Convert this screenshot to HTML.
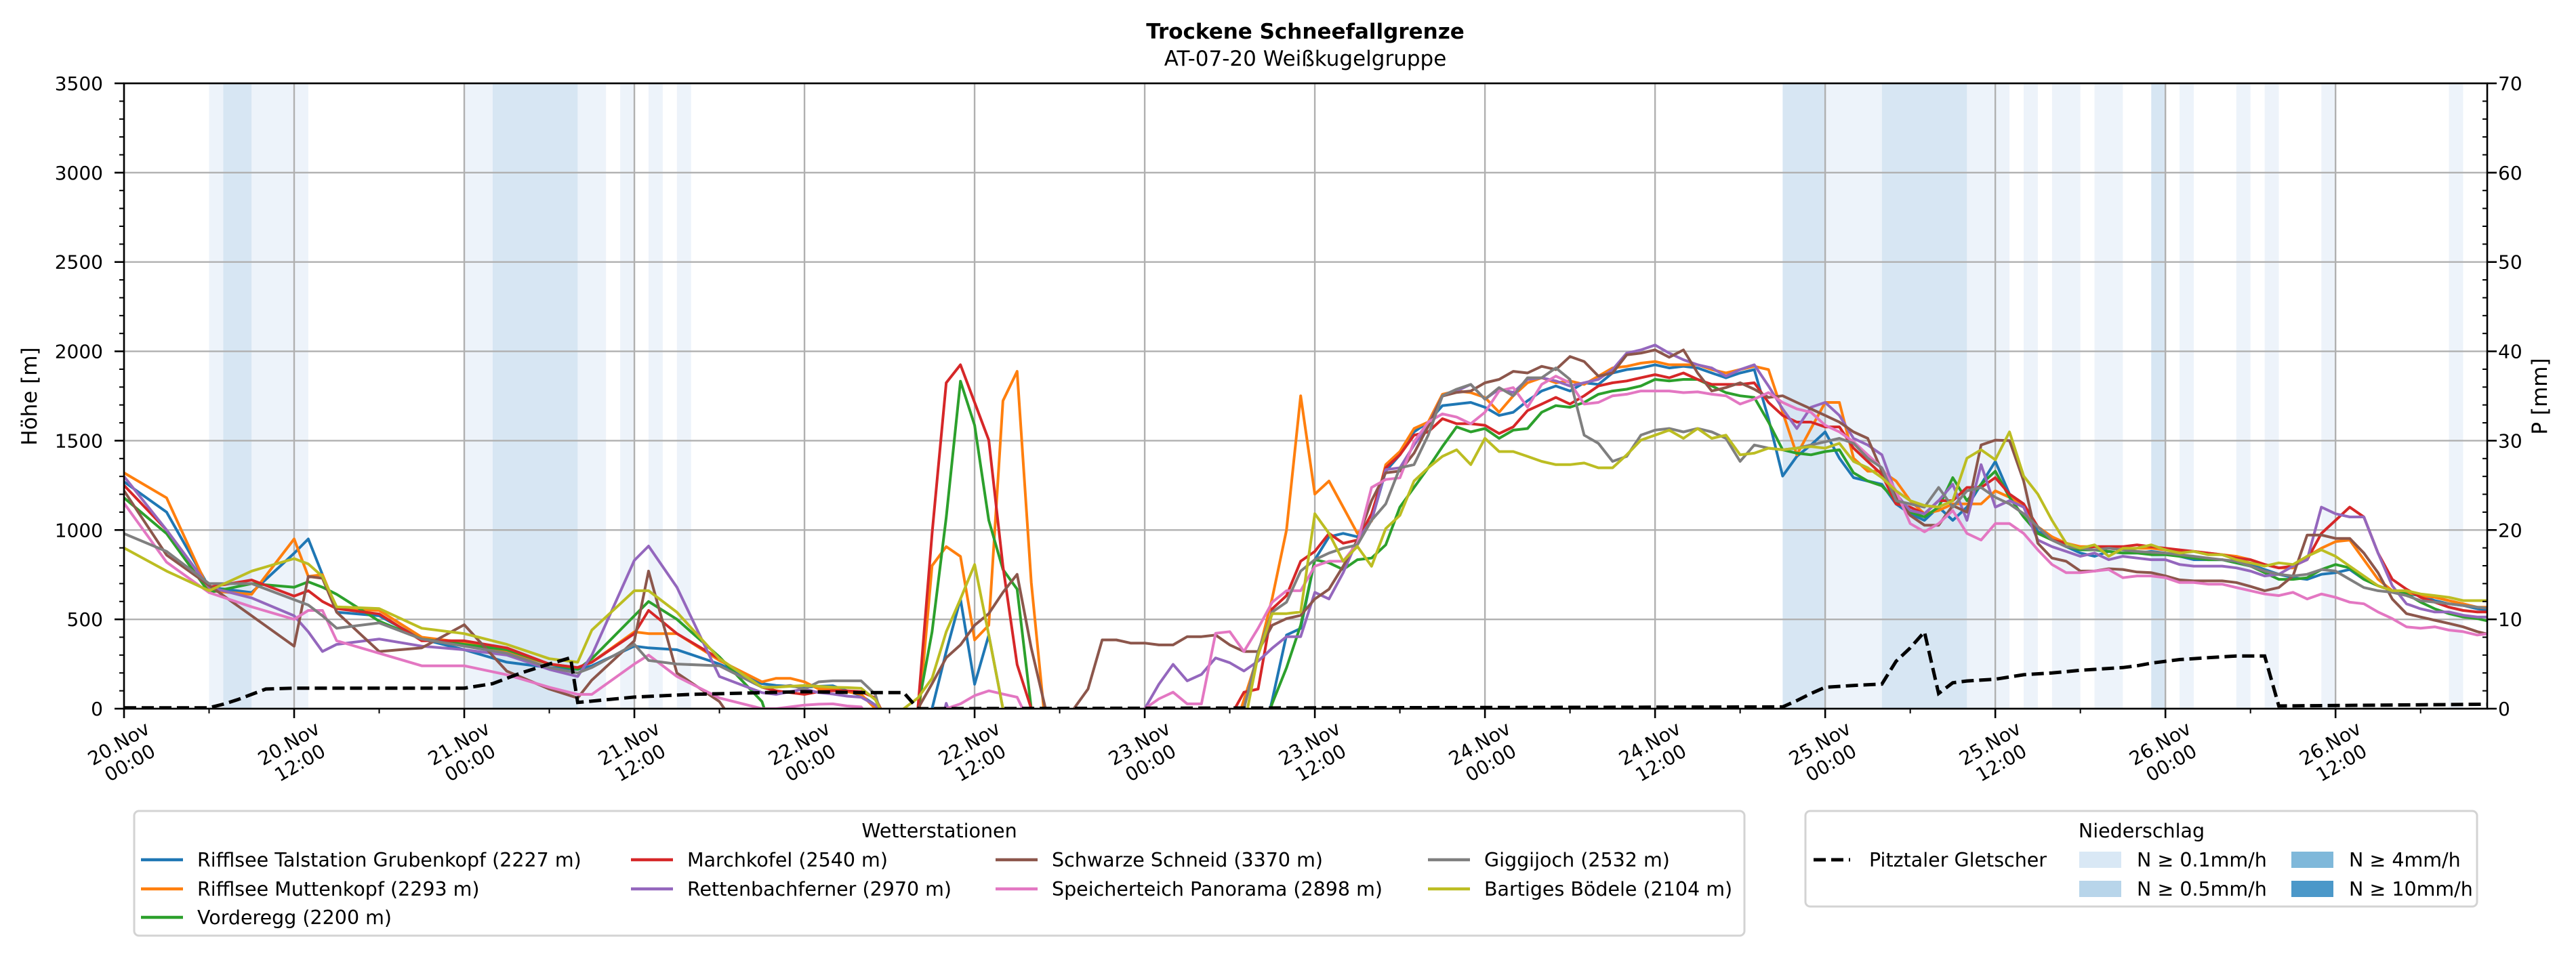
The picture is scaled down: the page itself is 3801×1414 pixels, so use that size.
<!DOCTYPE html>
<html><head><meta charset="utf-8"><title>Trockene Schneefallgrenze</title>
<style>html,body{margin:0;padding:0;background:#fff}svg{display:block}text{font-family:"DejaVu Sans","Liberation Sans",sans-serif}</style>
</head><body>
<svg id="chart" width="3801" height="1414" viewBox="0 0 3801 1414" xmlns="http://www.w3.org/2000/svg">
<defs><clipPath id="plotclip"><rect x="183" y="123" width="3487" height="923"/></clipPath></defs>
<text x="1926" y="57" text-anchor="middle" font-size="31" font-weight="bold">Trockene Schneefallgrenze</text>
<text x="1926" y="97" text-anchor="middle" font-size="31">AT-07-20 Weißkugelgruppe</text>
<g id="bands"></g>
<g id="grid"></g>
<g id="series" clip-path="url(#plotclip)"></g>
<g id="precip" clip-path="url(#plotclip)"></g>
<g id="axes"></g>
<text transform="translate(54,585) rotate(-90)" text-anchor="middle" font-size="31">Höhe [m]</text>
<text transform="translate(3758,585) rotate(-90)" text-anchor="middle" font-size="31">P [mm]</text>
<g id="legend1">
<rect x="198" y="1197" width="2376" height="184" rx="7" fill="#fff" stroke="#d3d3d3" stroke-width="3"/>
<text x="1386" y="1236" text-anchor="middle" font-size="28.5">Wetterstationen</text>
</g>
<g id="legend2">
<rect x="2664" y="1197" width="991" height="141" rx="7" fill="#fff" stroke="#d3d3d3" stroke-width="3"/>
<text x="3160" y="1236" text-anchor="middle" font-size="28.5">Niederschlag</text>
</g>
</svg>
<script>
const N = null;
const hoursEarly = [0,3,6,9,12,13,14,15,18,21,24,27,30,32,33,36,37,39,42,45,46,47,48];
const hoursLate = Array.from({length:119},(_,i)=>49+i);
const hours = hoursEarly.concat(hoursLate);

const stationNames = ["Rifflsee Talstation Grubenkopf (2227 m)","Rifflsee Muttenkopf (2293 m)","Vorderegg (2200 m)","Marchkofel (2540 m)","Rettenbachferner (2970 m)","Schwarze Schneid (3370 m)","Speicherteich Panorama (2898 m)","Giggijoch (2532 m)","Bartiges Bödele (2104 m)"];
const stationColors = ["#1f77b4","#ff7f0e","#2ca02c","#d62728","#9467bd","#8c564b","#e377c2","#7f7f7f","#bcbd22"];

const blueVals = [1270,1100,680,650,870,950,750,540,520,390,330,260,230,220,240,350,340,330,250,140,130,125,120,
125,128,100,73,20,-200,N,N,0,320,614,137,412,0,-300,
N,N,N,N,N,N,N,N,N,N,N,N,N,N,N, N,-300,
50,412,449,834,962,981,962,1054,1329,1421,1549,1604,1696,1705,1714,1687,1641,1659,1723,1778,1806,1778,1824,1815,1879,1898,1907,1925,1907,1916,
1907,1879,1852,1879,1898,1623,1302,1412,1476,1549,1402,1293,1274,1256,1146,1091,1054,1128,1054,1128,1256,1384,1201,1146,990,962,907,871,853,880,871,871,880,871,853,834,834,834,816,807,779,752,733,724,752,761,779,724,688,660,642,633,605,587,578,559,550];
const orangeVals = [1320,1180,660,640,950,740,750,560,550,400,370,320,250,230,260,430,420,420,270,150,170,170,150,
110,110,95,80,0,-300,N,-100,800,907,852,385,467,1723,1888,706,-100,
N,N,N,N,N,N,N,N,N,N,N,N, -200,50,300,
620,1000,1751,1201,1274,1128,981,1050,1366,1439,1568,1604,1760,1778,1769,1742,1659,1751,1824,1852,1824,1834,1815,1861,1907,1916,1934,1943,1925,1925,
1925,1898,1879,1898,1916,1898,1659,1421,1568,1714,1714,1402,1329,1329,1274,1164,1091,1109,1146,1146,1146,1219,1183,1128,1018,962,926,907,907,898,889,898,898,889,880,880,871,862,853,834,807,788,788,853,898,935,944,834,724,660,651,633,623,605,587,568,568];
const greenVals = [1180,980,650,700,680,710,680,640,490,390,360,330,250,220,280,520,600,500,290,40,-200,N,N,
N,N,N,N,N,N, -300,0,430,1070,1833,1586,1054,779,669,0,-300,
N,N,N,N,N,N,N,N,N,N,N,N,N,N, -200,
30,229,467,834,816,779,834,843,917,1128,1238,1348,1467,1577,1549,1568,1513,1559,1568,1659,1696,1687,1714,1760,1778,1788,1806,1843,1834,1843,
1843,1806,1769,1751,1742,1604,1449,1430,1421,1439,1449,1320,1274,1247,1164,1100,1073,1128,1293,1164,1256,1329,1183,1073,981,944,907,889,889,880,871,871,862,862,853,843,834,834,816,798,761,724,724,733,779,807,788,724,688,660,642,596,559,532,513,504,486];
const redVals = [1250,1000,680,720,630,660,600,560,530,380,380,340,250,230,260,420,550,420,280,120,100,90,80,
95,100,100,95,60,-100,-300,0,980,1824,1925,1714,1503,797,247,0,-300,
N,N,N,N,N,N,N,N,N,N,N,N, -50,
92,110,559,633,825,880,981,926,944,1091,1348,1421,1531,1549,1623,1595,1595,1586,1540,1577,1668,1705,1742,1705,1751,1806,1824,1834,1852,1870,1852,1879,
1843,1815,1815,1815,1824,1714,1641,1604,1604,1577,1577,1458,1384,1311,1146,1128,1091,1164,1164,1238,1238,1293,1201,1146,1018,944,926,898,907,907,907,917,907,898,889,880,871,862,843,834,807,788,798,834,981,1054,1128,1073,871,724,669,623,596,568,550,541,541];
const purpleVals = [1300,1000,680,620,520,430,320,360,390,350,330,300,220,180,300,830,910,680,180,90,80,95,110,
90,82,70,64,20,-100,N,N,-300,30,-200,
N,N,N,N,N,N,N,N,N,N,N,N, 0,
137,248,156,192,284,257,211,266,339,403,403,651,614,761,944,1054,1338,1348,1476,1586,1750,1778,1815,1732,1788,1770,1843,1852,1834,1806,1824,1843,1898,1990,2008,2035,1990,1953,
1925,1907,1861,1898,1925,1806,1678,1568,1687,1714,1641,1513,1476,1421,1201,1109,1091,1164,1256,1054,1366,1128,1164,1128,944,907,880,853,871,834,853,843,834,834,807,798,798,798,788,770,743,752,798,834,1128,1091,1073,1073,871,688,587,559,541,541,523,513,513];
const brownVals = [1220,860,690,520,350,740,730,540,320,340,470,210,110,60,160,380,770,200,40,-300,N,N,N,
N,N,N,N,N,N, -300,0,140,285,357,467,532,651,752,339,0,-200,0,110,
385,385,367,367,357,357,403,403,412,357,320,320,467,504,522,614,669,797,944,1164,1320,1330,1430,1580,1750,1770,1778,1824,1843,1888,1879,1916,1898,1971,1943,1861,1879,1980,1990,2008,1967,2008,
1879,1778,1797,1824,1788,1742,1751,1714,1678,1641,1604,1549,1513,1330,1183,1082,1027,1027,1137,1100,1476,1503,1500,1274,926,843,825,770,770,783,779,765,761,743,721,715,715,715,706,684,660,678,743,972,972,953,953,871,761,614,532,513,495,477,458,431,412];
const pinkVals = [1150,820,650,570,500,550,550,380,310,240,240,190,120,80,80,250,300,180,60,0,0,10,20,
25,27,15,10,-100, N,N,N, -200,0,27,73,100,82,64,-100,
N,N,N,N,N,N,N, 0,
55,92,27,27,422,431,320,450,596,660,660,797,825,825,926,1238,1283,1292,1494,1604,1650,1632,1595,1659,1778,1797,1687,1815,1861,1824,1705,1714,1751,1760,1778,1778,1778,1769,
1773,1760,1751,1705,1733,1769,1714,1678,1659,1586,1549,1494,1421,1348,1219,1036,990,1036,1109,981,944,1036,1036,981,889,807,761,761,770,779,733,743,743,733,706,706,697,697,678,660,642,633,651,614,642,623,596,587,541,504,458,450,458,440,431,412,422];
const grayVals = [980,880,700,700,610,580,520,450,480,390,350,310,230,200,230,360,270,250,240,120,120,130,110,
150,156,156,156,80,-200,
N,N,N,N,N,N,N,N,N,N,N,N,N,N,N,N,N,N,N,N,N,N,N, -200,0,
320,541,596,770,834,871,898,917,1054,1146,1348,1366,1531,1751,1788,1815,1732,1797,1751,1852,1852,1907,1843,1531,1485,1384,1412,1531,1559,1568,1549,
1568,1549,1513,1384,1476,1458,1449,1458,1476,1494,1513,1485,1402,1348,1164,1146,1128,1238,1128,1219,1238,1183,1146,1091,1018,944,907,898,889,898,889,880,875,871,862,853,843,834,825,798,770,752,743,752,779,770,724,678,660,651,633,605,596,587,578,568,559];
const oliveVals = [900,770,660,770,840,810,740,570,560,450,420,360,280,260,440,660,660,540,280,120,120,125,130,
125,120,118,114,50,-100,0,60,170,430,614,807,412,0,-300,
N,N,N,N,N,N,N,N,N,N,N,N,N,N,N, -100,
300,532,532,541,1091,981,825,908,797,1008,1082,1274,1348,1412,1449,1366,1513,1439,1439,1412,1384,1366,1366,1375,1348,1348,1421,1503,1531,1559,1513,
1568,1513,1531,1421,1430,1458,1449,1458,1467,1458,1485,1384,1348,1293,1219,1164,1137,1128,1164,1402,1449,1393,1549,1302,1201,1054,926,898,917,853,898,898,917,889,871,880,862,862,834,816,798,816,807,853,889,853,798,743,688,660,660,642,633,623,605,605,605];
const seriesValues = [blueVals,orangeVals,greenVals,redVals,purpleVals,brownVals,pinkVals,grayVals,oliveVals];

const pitzHours = [0,6,7,8,10,12,24,26,28,30,31.5,32,36,40,48,52,55,56,117,118,119,120,122,124,125,126,127,128,129,130,132,134,136,138,139,141,142,143,144,145,147,149,150,151,152,167];
const pitzVals  = [0.1,0.1,0.5,1,2.2,2.3,2.3,2.8,4,5,5.7,0.7,1.3,1.6,1.9,1.8,1.8,0,0.2,0.9,1.7,2.4,2.6,2.75,5.3,6.8,8.6,1.7,2.9,3.1,3.3,3.8,4.0,4.3,4.4,4.6,4.8,5.1,5.3,5.5,5.7,5.9,5.9,5.9,0.3,0.5];

const bandStart = [6,9,24,32,35,37,39,120,130,134,136,139,145,149,151,155,164, 7,26,117,124,143];
const bandEnd   = [7,13,26,34,36,38,40,124,133,135,138,141,146,150,152,156,165, 9,32,120,130,144];
const bandLevel = [1,1,1,1,1,1,1,1,1,1,1,1,1,1,1,1,1, 2,2,2,2,2];

const yTicks = [0,500,1000,1500,2000,2500,3000,3500];
const y2Ticks = [0,10,20,30,40,50,60,70];
const xTickHours = [0,12,24,36,48,60,72,84,96,108,120,132,144,156];
const xTickDays = ["20.Nov","20.Nov","21.Nov","21.Nov","22.Nov","22.Nov","23.Nov","23.Nov","24.Nov","24.Nov","25.Nov","25.Nov","26.Nov","26.Nov"];
const xTickTimes = ["00:00","12:00","00:00","12:00","00:00","12:00","00:00","12:00","00:00","12:00","00:00","12:00","00:00","12:00"];

const L=183, R=3670, T=123, B=1046, HMAX=166.7;
const xs = h => L + h*(R-L)/HMAX;
const ys = v => B - v*(B-T)/3500;
const ys2 = p => B - p*(B-T)/70;
const NS = "http://www.w3.org/2000/svg";
function mk(tag, attrs, parent){ const e=document.createElementNS(NS,tag); for(const k in attrs) e.setAttribute(k,attrs[k]); parent.appendChild(e); return e; }

const gB = document.getElementById('bands');
bandStart.forEach((s,i)=>{
  const r = mk('rect',{x:xs(s),y:T,width:xs(bandEnd[i])-xs(s),height:B-T,fill:bandLevel[i]===2?'#d7e6f3':'#edf3fa'},gB);
  
  
});
const gG = document.getElementById('grid');
yTicks.forEach(v=>{ const l=mk('line',{x1:L,x2:R,y1:ys(v),y2:ys(v),stroke:'#b0b0b0','stroke-width':2.4},gG);
    });
xTickHours.forEach(h=>{ const l=mk('line',{x1:xs(h),x2:xs(h),y1:T,y2:B,stroke:'#b0b0b0','stroke-width':2.4},gG);
    });

const gS = document.getElementById('series');
seriesValues.forEach((vals,si)=>{
  let d='', pen=false;
  vals.forEach((v,i)=>{
    if(v===null){pen=false;return;}
    d += (pen?'L':'M') + xs(hours[i]).toFixed(1) + ' ' + ys(v).toFixed(1) + ' ';
    pen=true;
  });
  const p = mk('path',{d:d,fill:'none',stroke:stationColors[si],'stroke-width':4,'stroke-linejoin':'round'},gS);
  
  
});
const gP = document.getElementById('precip');
let pd=''; pitzHours.forEach((h,i)=>{ pd += (i?'L':'M') + xs(h).toFixed(1)+' '+ys2(pitzVals[i]).toFixed(1)+' '; });
const pp = mk('path',{d:pd,fill:'none',stroke:'#000','stroke-width':5,'stroke-dasharray':'18 8'},gP);



const gA = document.getElementById('axes');
const frame = mk('rect',{x:L,y:T,width:R-L,height:B-T,fill:'none',stroke:'#000','stroke-width':2.6},gA);


for(let v=0; v<=3500; v+=100){
  const major = v%500===0;
  mk('line',{x1:L-(major?14:7),x2:L,y1:ys(v),y2:ys(v),stroke:'#000','stroke-width':major?2.6:2},gA);
}
yTicks.forEach(v=>{
  const t = mk('text',{x:152,y:ys(v)+10,'text-anchor':'end','font-size':28},gA);
  t.textContent = v;
  
  
});
for(let p=0; p<=70; p+=2){
  if(p%10===0) mk('line',{x1:R,x2:R+14,y1:ys2(p),y2:ys2(p),stroke:'#000','stroke-width':2.6},gA);
  else mk('line',{x1:R-7,x2:R,y1:ys2(p),y2:ys2(p),stroke:'#000','stroke-width':2},gA);
}
y2Ticks.forEach(p=>{
  const t = mk('text',{x:3686,y:ys2(p)+10,'font-size':28},gA);
  t.textContent = p;
  
  
});
for(let h=0; h<=HMAX; h+=6){
  const major = h%12===0;
  mk('line',{x1:xs(h),x2:xs(h),y1:B,y2:B+(major?14:7),stroke:'#000','stroke-width':major?2.6:2},gA);
}
xTickHours.forEach((h,i)=>{
  const t = mk('text',{transform:'translate('+xs(h).toFixed(1)+',1111) rotate(-30)','text-anchor':'middle','font-size':28},gA);
  const a = mk('tspan',{x:0,y:-6},t); a.textContent = xTickDays[i];
  const b = mk('tspan',{x:0,y:27},t); b.textContent = xTickTimes[i];
  
  
});

const g1 = document.getElementById('legend1');
const colX = [208,931,1469,2107];
const rowY = [1269,1312,1354];
const legendPos = [[0,0],[0,1],[0,2],[1,0],[1,1],[2,0],[2,1],[3,0],[3,1]];
stationNames.forEach((n,i)=>{
  const [c,r] = legendPos[i];
  const g = mk('g',{},g1);
  
  
  mk('line',{x1:colX[c],x2:colX[c]+62,y1:rowY[r],y2:rowY[r],stroke:stationColors[i],'stroke-width':4.5},g);
  const t = mk('text',{x:colX[c]+83,y:rowY[r]+10,'font-size':28.5},g);
  t.textContent = n;
});
const g2 = document.getElementById('legend2');
const ge = mk('g',{},g2);


mk('line',{x1:2676,x2:2730,y1:1269,y2:1269,stroke:'#000','stroke-width':5,'stroke-dasharray':'18 8'},ge);
const pt = mk('text',{x:2758,y:1279,'font-size':28.5},ge); pt.textContent='Pitztaler Gletscher';
const patchLabels = ["N ≥ 0.1mm/h","N ≥ 0.5mm/h","N ≥ 4mm/h","N ≥ 10mm/h"];
const patchColors = ["#d9e8f5","#b8d5ea","#7fb8da","#4b98c9"];
const patchX = [3068,3068,3381,3381];
const patchY = [1269,1312,1269,1312];
patchLabels.forEach((lab,i)=>{
  const g = mk('g',{},g2);
  
  
  mk('rect',{x:patchX[i],y:patchY[i]-12,width:62,height:24,fill:patchColors[i]},g);
  const t = mk('text',{x:patchX[i]+85,y:patchY[i]+10,'font-size':28.5},g); t.textContent = lab;
});
</script>
</body></html>
